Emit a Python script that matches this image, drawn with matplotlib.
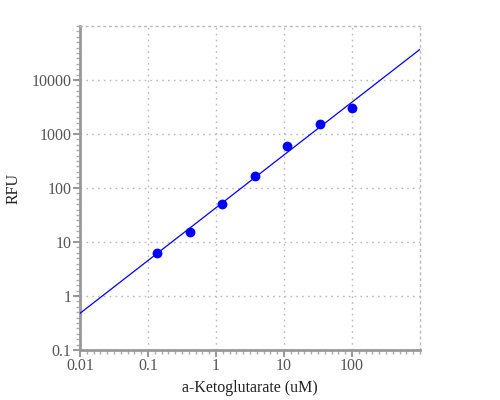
import numpy as np
import matplotlib
matplotlib.use('Agg')
from matplotlib import pyplot as plt
from matplotlib.ticker import FixedLocator, NullFormatter

# concentrations (uM) and measured fluorescence
conc = [0.137, 0.41, 1.23, 3.7, 11.1, 33.3, 100]
rfu = [6.2, 15.5, 50, 165, 607, 1510, 3070]

# fitted line, read at the axis edges
fit_x = [0.01, 1000]
fit_y = [0.478, 37000]

x_ticks = [0.01, 0.1, 1, 10, 100]
x_labels = ['0.01', '0.1', '1', '10', '100']
y_ticks = [0.1, 1, 10, 100, 1000, 10000]
y_labels = ['0.1', '1', '10', '100', '1000', '10000']

plt.rcParams['font.family'] = ['Liberation Serif', 'DejaVu Serif']

fig = plt.figure(figsize=(5, 4), dpi=100)
ax = fig.add_axes([0.16, 0.125, 0.68, 0.81])

ax.plot(fit_x, fit_y, color='#0000ff', lw=0.9, zorder=3)
ax.scatter(conc, rfu, s=50, color='#0000ff', zorder=4, linewidths=0)

ax.set_xscale('log')
ax.set_yscale('log')
ax.set_xlim(0.01, 1000)
ax.set_ylim(0.1, 100000)

ax.xaxis.set_major_locator(FixedLocator(x_ticks))
ax.yaxis.set_major_locator(FixedLocator(y_ticks))
ax.set_xticklabels(x_labels)
ax.set_yticklabels(y_labels)
ax.xaxis.set_minor_locator(FixedLocator(10 ** (np.arange(-20, 31) / 10)))
ax.yaxis.set_minor_locator(FixedLocator(10 ** (np.arange(-10, 51) / 10)))
ax.xaxis.set_minor_formatter(NullFormatter())
ax.yaxis.set_minor_formatter(NullFormatter())

ax.grid(True, which='major', color='#bbbbbb', linestyle=(0, (1.2, 3)), lw=1)
ax.tick_params(which='major', length=5, width=1.5, color='#999999',
               labelcolor='#555555', labelsize=11.5, pad=1)
ax.tick_params(which='minor', length=3, width=1, color='#aaaaaa')

for side in ['left', 'bottom']:
    ax.spines[side].set_color('#999999')
    ax.spines[side].set_linewidth(2)
for side in ['top', 'right']:
    ax.spines[side].set_color('#bbbbbb')
    ax.spines[side].set_linestyle((0, (1.2, 3)))
    ax.spines[side].set_linewidth(1)

ax.set_xlabel('a-Ketoglutarate (uM)', fontsize=11.5, color='#222222', labelpad=4)
ax.set_ylabel('RFU', fontsize=11.5, color='#222222', labelpad=7)

fig.savefig('out.png', dpi=100)
